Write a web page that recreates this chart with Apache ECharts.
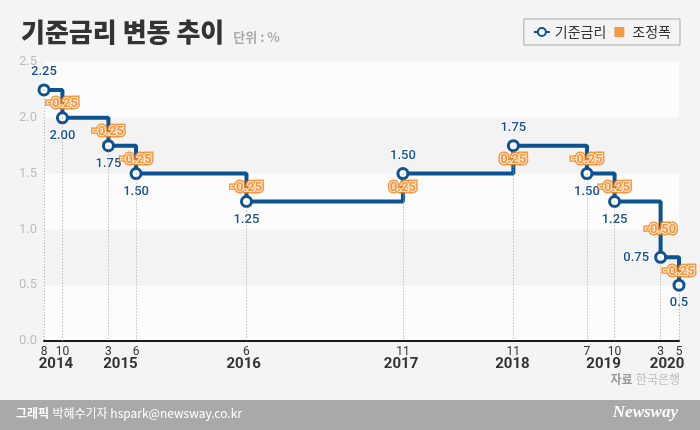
<!DOCTYPE html>
<html>
<head>
<meta charset="utf-8">
<script src="https://cdn.jsdelivr.net/npm/echarts@6.0.0/dist/echarts.min.js"></script>
<style>
  html, body { margin: 0; padding: 0; background: #f4f4f4; }
  #main { width: 700px; height: 430px; }
</style>
</head>
<body>
<div id="main"></div>
<script>
// 기준금리 변경 시점 (연-월)
var dates = ['2014-08', '2014-10', '2015-03', '2015-06', '2016-06', '2017-11', '2018-11', '2019-07', '2019-10', '2020-03', '2020-05'];
var rates = [2.25, 2.00, 1.75, 1.50, 1.25, 1.50, 1.75, 1.50, 1.25, 0.75, 0.5];
var rateText = ['2.25', '2.00', '1.75', '1.50', '1.25', '1.50', '1.75', '1.50', '1.25', '0.75', '0.5'];
var changes = ['', '-0.25', '-0.25', '-0.25', '-0.25', '0.25', '0.25', '-0.25', '-0.25', '-0.50', '-0.25'];
var labelSide = ['top', 'bottom', 'bottom', 'bottom', 'bottom', 'top', 'top', 'bottom', 'bottom', 'left', 'bottom'];

// 연도 라벨 (월 인덱스 기준 위치)
var yearLabels = ['2014', '2015', '2016', '2017', '2018', '2019', '2020'];
var yearAt = [9.3, 16.3, 29.7, 46.8, 58.9, 68.8, 75.7];

var BLUE = '#0e5291';
var ORANGE = '#f3831a';
var NUM_FONT = 'Roboto, "Noto Sans CJK KR", sans-serif';
var KR_FONT = '"Noto Sans CJK KR", sans-serif';

function monthIndex(s) {
  var p = s.split('-');
  return (Number(p[0]) - 2014) * 12 + Number(p[1]);
}

var xs = dates.map(monthIndex);

var lineData = [];
var changeData = [];
var dropLines = [];
for (var i = 0; i < xs.length; i++) {
  lineData.push({
    value: [xs[i], rates[i]],
    label: { position: labelSide[i] }
  });
  dropLines.push([{ coord: [xs[i], rates[i]] }, { coord: [xs[i], 0] }]);
  if (i > 0) {
    changeData.push({
      value: [xs[i], (rates[i - 1] + rates[i]) / 2],
      name: changes[i]
    });
  }
}

// 조정폭 라벨: 바깥 주황 테두리 + 안쪽 흰 테두리 두 겹
function changeSeries(z, border, borderW) {
  return {
    name: '조정폭',
    type: 'scatter',
    z: z,
    symbolSize: 0,
    itemStyle: { color: ORANGE },
    data: changeData,
    label: {
      show: true,
      position: 'inside',
      color: ORANGE,
      fontFamily: NUM_FONT,
      fontSize: 13,
      fontWeight: 'bold',
      textBorderColor: border,
      textBorderWidth: borderW,
      formatter: function (p) { return p.name; }
    }
  };
}

var chart = echarts.init(document.getElementById('main'));

var option = {
  backgroundColor: '#f4f4f4',
  animation: false,
  title: {
    left: 16,
    top: 14,
    text: '{t|기준금리 변동 추이} {u|단위 : %}',
    textStyle: {
      rich: {
        t: { fontFamily: KR_FONT, fontSize: 26, fontWeight: 900, color: '#333' },
        u: { fontFamily: KR_FONT, fontSize: 13, color: '#aaa', padding: [10, 0, 0, 4] }
      }
    }
  },
  legend: {
    right: 20,
    top: 19,
    padding: [6, 9, 6, 9],
    borderColor: '#aaa',
    borderWidth: 1,
    itemWidth: 16,
    itemHeight: 10,
    itemGap: 8,
    textStyle: { fontFamily: KR_FONT, fontSize: 14, color: '#333' },
    data: [
      { name: '기준금리' },
      { name: '조정폭', icon: 'path://M0,0H10V10H0Z' }
    ]
  },
  grid: { left: 44, right: 21, top: 62, bottom: 89 },
  xAxis: [
    {
      type: 'value',
      min: 8,
      max: 77,
      axisLine: { show: true, lineStyle: { color: '#1a1a1a', width: 2 } },
      axisTick: { show: false },
      splitLine: { show: false },
      axisLabel: {
        customValues: xs,
        margin: 5,
        color: '#333',
        fontFamily: NUM_FONT,
        fontSize: 12,
        formatter: function (v) { return String(((Math.round(v) - 1) % 12) + 1); }
      }
    },
    {
      type: 'value',
      min: 8,
      max: 77,
      position: 'bottom',
      axisLine: { show: false },
      axisTick: { show: false },
      splitLine: { show: false },
      axisLabel: {
        customValues: yearAt,
        margin: 16,
        color: '#333',
        fontFamily: NUM_FONT,
        fontWeight: 'bold',
        fontSize: 15,
        formatter: function (v) { return yearLabels[Math.floor((v - 1) / 12)]; }
      }
    }
  ],
  yAxis: {
    type: 'value',
    min: 0,
    max: 2.5,
    interval: 0.5,
    axisLine: { show: false },
    axisTick: { show: false },
    splitLine: { show: false },
    splitArea: { show: true, areaStyle: { color: ['#fcfcfc', '#f3f3f3'] } },
    axisLabel: {
      margin: 7,
      color: '#bdbdbd',
      fontFamily: NUM_FONT,
      fontSize: 13,
      formatter: function (v) { return v.toFixed(1); }
    }
  },
  series: [
    {
      name: '기준금리',
      type: 'line',
      step: 'end',
      z: 3,
      data: lineData,
      symbol: 'circle',
      symbolSize: 10,
      lineStyle: { color: BLUE, width: 4 },
      itemStyle: { color: '#fff', borderColor: BLUE, borderWidth: 3 },
      label: {
        show: true,
        distance: 5,
        color: '#175191',
        fontFamily: NUM_FONT,
        fontSize: 13,
        fontWeight: 500,
        textBorderColor: '#fff',
        textBorderWidth: 2,
        formatter: function (p) { return rateText[p.dataIndex]; }
      },
      markLine: {
        silent: true,
        symbol: 'none',
        label: { show: false },
        lineStyle: { color: '#a8a8a8', type: [1, 2], width: 1 },
        data: dropLines
      }
    },
    changeSeries(5, ORANGE, 5),
    changeSeries(6, '#fff', 2)
  ],
  graphic: [
    {
      type: 'text',
      right: 20,
      top: 373,
      style: {
        text: '{a|자료} {b|한국은행}',
        rich: {
          a: { fontFamily: KR_FONT, fontSize: 12, fontWeight: 'bold', fill: '#999' },
          b: { fontFamily: KR_FONT, fontSize: 12, fill: '#bbb' }
        }
      }
    },
    {
      type: 'rect',
      left: 0,
      top: 400,
      shape: { width: 700, height: 30 },
      style: { fill: '#a9a9a9' }
    },
    {
      type: 'text',
      left: 16,
      top: 407,
      style: {
        text: '{a|그래픽} {b|박혜수기자 hspark@newsway.co.kr}',
        rich: {
          a: { fontFamily: KR_FONT, fontSize: 12, fontWeight: 'bold', fill: '#fff' },
          b: { fontFamily: KR_FONT, fontSize: 12, fill: '#fff' }
        }
      }
    },
    {
      type: 'text',
      right: 22,
      top: 404,
      style: {
        text: 'Newsway',
        fill: '#fff',
        font: 'italic bold 17px "Liberation Serif", serif'
      }
    }
  ]
};

chart.setOption(option);
</script>
</body>
</html>
